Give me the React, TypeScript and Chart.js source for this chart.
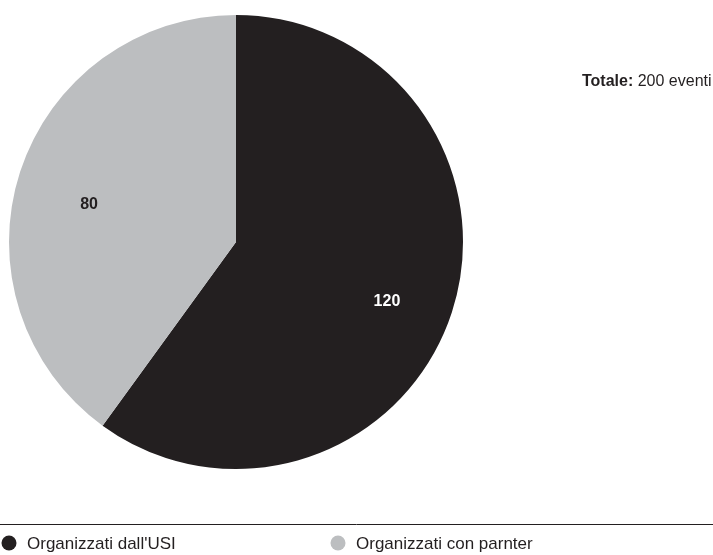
import React, { useEffect, useRef } from "react";
import { Chart, registerables } from "chart.js";

Chart.register(...registerables);

const categories = ["Organizzati dall'USI", "Organizzati con parnter"];
const values = [120, 80];
const colors = ["#231f20", "#bcbec0"];
const labelColors = ["#ffffff", "#231f20"];
const totalLabel = "Totale:";
const totalValue = "200 eventi";

const FONT = "'Liberation Sans', Arial, Helvetica, sans-serif";

const overlayPlugin = {
  id: "overlay",
  afterDraw(chart: any) {
    const ctx = chart.ctx;
    const meta = chart.getDatasetMeta(0);
    ctx.save();
    // slice value labels
    ctx.font = `bold 16px ${FONT}`;
    ctx.textAlign = "center";
    ctx.textBaseline = "middle";
    meta.data.forEach((arc: any, i: number) => {
      const mid = (arc.startAngle + arc.endAngle) / 2;
      const r = arc.outerRadius * 0.69;
      const x = arc.x + Math.cos(mid) * r + 2;
      const y = arc.y + Math.sin(mid) * r + 11;
      ctx.fillStyle = labelColors[i];
      ctx.fillText(String(values[i]), x, y);
    });
    // total text
    ctx.textAlign = "left";
    ctx.textBaseline = "alphabetic";
    ctx.fillStyle = "#231f20";
    ctx.font = `bold 16px ${FONT}`;
    const tx = 582;
    const ty = 86;
    ctx.fillText(totalLabel, tx, ty);
    const w = ctx.measureText(totalLabel + " ").width;
    ctx.font = `16px ${FONT}`;
    ctx.fillText(totalValue, tx + w, ty);
    // legend rule
    ctx.strokeStyle = "#231f20";
    ctx.lineWidth = 1;
    ctx.beginPath();
    ctx.moveTo(0, 524.5);
    ctx.lineTo(713, 524.5);
    ctx.stroke();
    // legend items
    const lx = [9, 338];
    ctx.font = `17px ${FONT}`;
    ctx.textBaseline = "middle";
    categories.forEach((c, i) => {
      ctx.fillStyle = colors[i];
      ctx.beginPath();
      ctx.arc(lx[i], 543, 7.5, 0, Math.PI * 2);
      ctx.fill();
      ctx.fillStyle = "#231f20";
      ctx.fillText(c, lx[i] + 18, 544);
    });
    ctx.restore();
  },
};

export default function App() {
  const ref = useRef<HTMLCanvasElement | null>(null);
  useEffect(() => {
    document.body.style.margin = "0";
    const chart = new Chart(ref.current!, {
      type: "pie",
      data: {
        labels: categories,
        datasets: [
          {
            data: values,
            backgroundColor: colors,
            borderWidth: 0,
          },
        ],
      },
      options: {
        animation: false,
        responsive: false,
        maintainAspectRatio: false,
        layout: { padding: { left: 9, right: 250, top: 15, bottom: 86 } },
        plugins: {
          legend: { display: false },
          tooltip: { enabled: false },
        },
      },
      plugins: [overlayPlugin],
    });
    return () => chart.destroy();
  }, []);
  return (
    <div style={{ width: 713, height: 555, background: "#fff" }}>
      <canvas ref={ref} width={713} height={555} style={{ display: "block" }} />
    </div>
  );
}
